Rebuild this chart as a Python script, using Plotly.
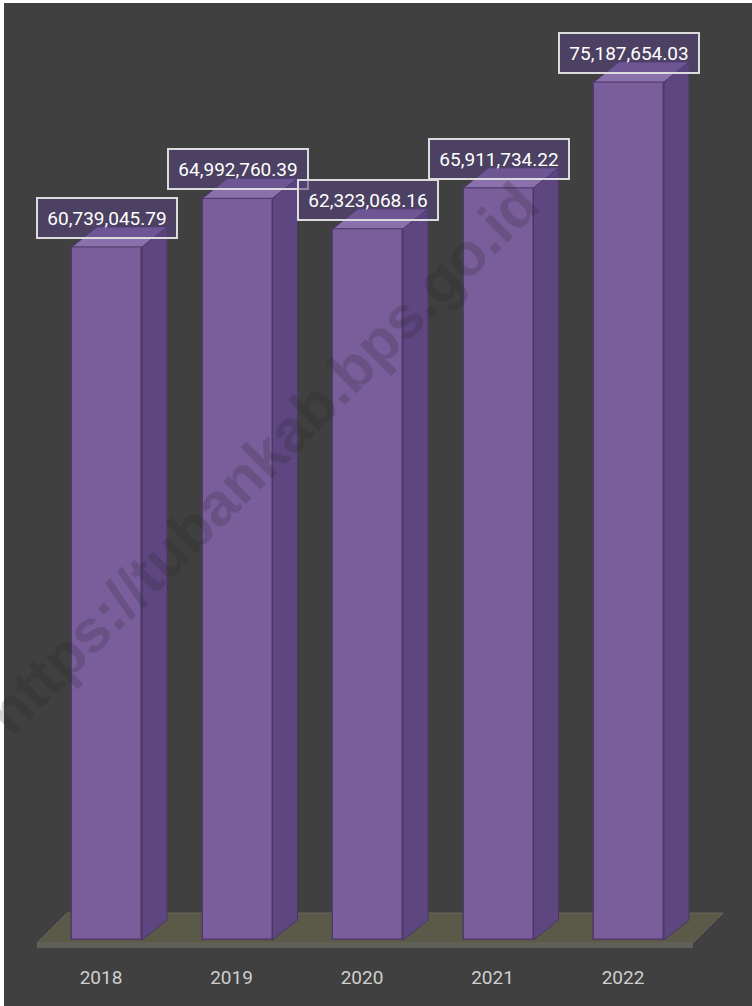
import plotly.graph_objects as go

# ---- data ----
years = ["2018", "2019", "2020", "2021", "2022"]
values = [60739045.79, 64992760.39, 62323068.16, 65911734.22, 75187654.03]
watermark = "https://tubankab.bps.go.id"

# ---- style / geometry ----
W, H = 752, 1006
BG = "#404040"
FRONT = "#7a5e9c"
FRONT_LINE = "#4f3b6b"
SIDE = "#5e4681"
TOP = "#8b70ae"
FLOOR = "#5b5a49"
FONT = "Roboto, Liberation Sans, sans-serif"

px_per_cat = 130.5          # pixel distance between categories
first_px = 107              # pixel x of first category centre
plot_bottom_px = 950        # pixel y of plot area bottom
zero_px = 940               # pixel y of value 0
top_val = max(values)
top_px = 82
px_per_unit = (zero_px - top_px) / top_val

x_range = [-first_px / px_per_cat, (W - first_px) / px_per_cat]
y_range = [-(plot_bottom_px - zero_px) / px_per_unit, zero_px / px_per_unit]

bar_w = 70 / px_per_cat
dx = 25 / px_per_cat
dy = 20 / px_per_unit

xs = list(range(len(years)))

fig = go.Figure()

# front faces
fig.add_trace(go.Bar(
    x=xs, y=values, width=bar_w,
    marker=dict(color=FRONT, line=dict(color=FRONT_LINE, width=1.5)),
    hoverinfo="skip", showlegend=False,
))

# side and top faces (derived from data)
for x, v in zip(xs, values):
    r = x + bar_w / 2
    l = x - bar_w / 2
    fig.add_trace(go.Scatter(
        x=[r, r + dx, r + dx, r, r], y=[0, dy, v + dy, v, 0],
        fill="toself", fillcolor=SIDE, mode="lines",
        line=dict(color="#4a3766", width=1), hoverinfo="skip", showlegend=False,
    ))
    fig.add_trace(go.Scatter(
        x=[l, l + dx, r + dx, r, l], y=[v, v + dy, v + dy, v, v],
        fill="toself", fillcolor=TOP, mode="lines",
        line=dict(color="#4a3766", width=1), hoverinfo="skip", showlegend=False,
    ))

# floor (decoration, drawn below traces)
fl = xs[0] - (first_px - 37) / px_per_cat
fr = xs[-1] + (693 - (first_px + px_per_cat * xs[-1])) / px_per_cat
fdx = 30 / px_per_cat
fdy = 30 / px_per_unit
fy0 = -3 / px_per_unit
thick = 5 / px_per_unit
shapes = [
    dict(type="path", xref="x", yref="y", layer="below",
         path=f"M {fl},{fy0} L {fr},{fy0} L {fr},{fy0 - thick} L {fl},{fy0 - thick} Z",
         fillcolor="#5f5f58", line=dict(width=0)),
    dict(type="path", xref="x", yref="y", layer="below",
         path=f"M {fl},{fy0} L {fl + fdx},{fy0 + fdy} L {fr + fdx},{fy0 + fdy} L {fr},{fy0} Z",
         fillcolor=FLOOR, line=dict(color="#66655a", width=1)),
    # white image border left/top
    dict(type="rect", xref="paper", yref="paper", layer="above",
         x0=0, x1=4 / W, y0=-0.1, y1=1, fillcolor="white", line=dict(width=0)),
    dict(type="rect", xref="paper", yref="paper", layer="above",
         x0=0, x1=1, y0=1 - 3 / plot_bottom_px, y1=1, fillcolor="white", line=dict(width=0)),
]

annotations = []
for x, v in zip(xs, values):
    annotations.append(dict(
        x=x, y=v, xref="x", yref="y", yshift=29,
        text=f"{v:,.2f}", showarrow=False,
        font=dict(family=FONT, size=19, color="white"),
        bgcolor="rgba(85,65,125,0.55)", bordercolor="#dcdcdc", borderwidth=2,
        width=136, height=36, align="center", valign="middle",
    ))

annotations.append(dict(
    x=262 / W, y=1 - 458 / plot_bottom_px, xref="paper", yref="paper",
    text=f"<b>{watermark}</b>", showarrow=False, textangle=-45,
    font=dict(family="Liberation Sans, Arial, sans-serif", size=60,
              color="rgba(35,35,35,0.2)"),
))

fig.update_layout(
    width=W, height=H,
    margin=dict(l=0, r=0, t=0, b=H - plot_bottom_px, pad=0),
    paper_bgcolor=BG, plot_bgcolor=BG,
    xaxis=dict(range=x_range, tickvals=xs, ticktext=years, showgrid=False,
               zeroline=False, showline=False, ticks="", fixedrange=True,
               tickfont=dict(family=FONT, size=19, color="#cfcfcf"),
               ticklabelshift=-6, ticklabelstandoff=14),
    yaxis=dict(range=y_range, visible=False, showgrid=False, zeroline=False,
               fixedrange=True),
    shapes=shapes,
    annotations=annotations,
    bargap=0,
)

fig.write_html("out.html", config={"displayModeBar": False},
               post_script="document.body.style.margin='0px';")
